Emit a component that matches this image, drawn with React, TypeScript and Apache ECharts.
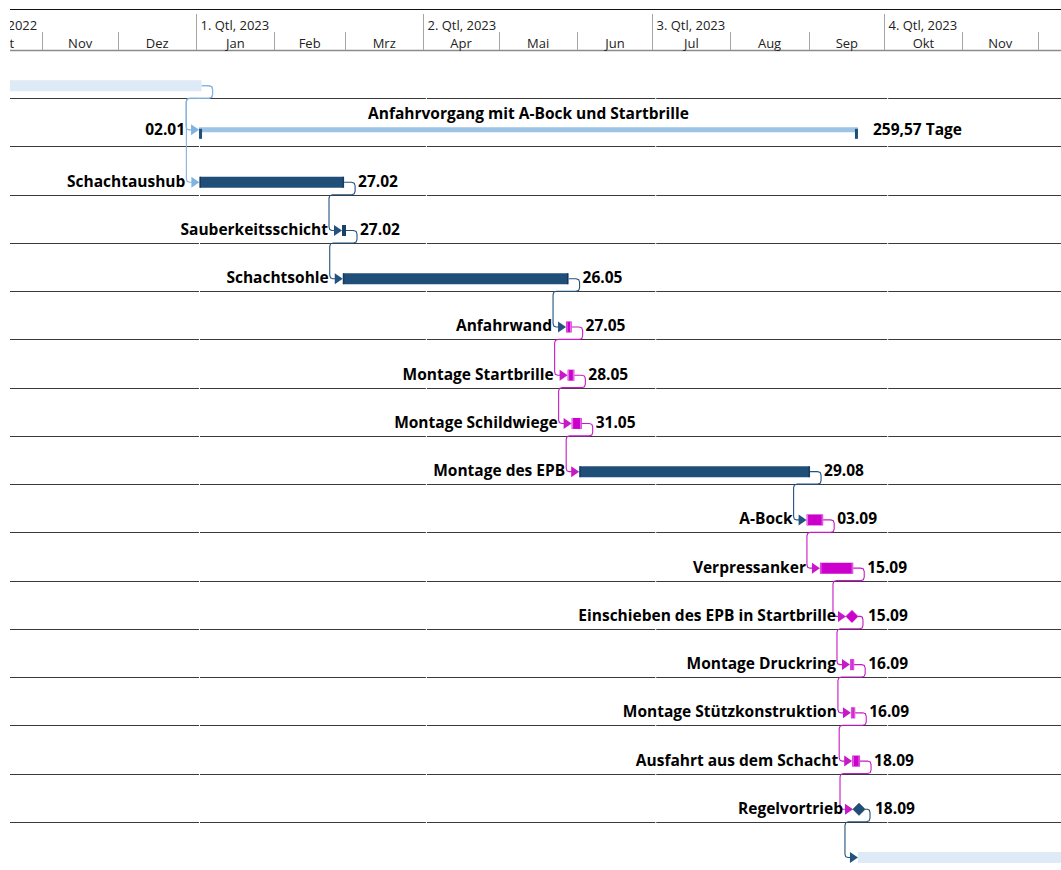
import React, { useEffect, useRef } from "react";
import * as echarts from "echarts";

// ---------- timescale ----------
const AXIS_MIN = "2022-10-19T05:15";
const AXIS_MAX = "2023-12-10T03:00";

const monthStarts = [
  "2022-10-01", "2022-11-01", "2022-12-01", "2023-01-01", "2023-02-01", "2023-03-01", "2023-04-01",
  "2023-05-01", "2023-06-01", "2023-07-01", "2023-08-01", "2023-09-01", "2023-10-01", "2023-11-01",
  "2023-12-01", "2024-01-01",
];
const monthLabels = ["Okt", "Nov", "Dez", "Jan", "Feb", "Mrz", "Apr", "Mai", "Jun", "Jul", "Aug", "Sep", "Okt", "Nov", "Dez"];
const quarterStarts = ["2022-10-01", "2023-01-01", "2023-04-01", "2023-07-01", "2023-10-01"];
const quarterLabels = ["4. Qtl, 2022", "1. Qtl, 2023", "2. Qtl, 2023", "3. Qtl, 2023", "4. Qtl, 2023"];

// ---------- tasks (one per row) ----------
const taskNames = [
  "", "Anfahrvorgang mit A-Bock und Startbrille", "Schachtaushub", "Sauberkeitsschicht", "Schachtsohle",
  "Anfahrwand", "Montage Startbrille", "Montage Schildwiege", "Montage des EPB", "A-Bock", "Verpressanker",
  "Einschieben des EPB in Startbrille", "Montage Druckring", "Montage Stützkonstruktion",
  "Ausfahrt aus dem Schacht", "Regelvortrieb", "",
];
const taskKinds = [
  "external", "summary", "task", "task", "task", "task", "task", "task", "task", "task", "task",
  "milestone", "task", "task", "task", "milestone", "external",
];
const taskColors = [
  "pale", "summary", "blue", "blue", "blue", "magenta", "magenta", "magenta", "blue", "magenta", "magenta",
  "magenta", "magenta", "magenta", "magenta", "blue", "pale",
];
const taskStarts = [
  "2022-09-01T00:00", "2023-01-02T05:00", "2023-01-02T08:00", "2023-02-27T22:00", "2023-02-28T05:00",
  "2023-05-27T19:00", "2023-05-28T10:00", "2023-05-30T00:00", "2023-06-02T00:00", "2023-08-31T05:00",
  "2023-09-05T12:00", "2023-09-18T05:00", "2023-09-17T10:00", "2023-09-17T19:00", "2023-09-18T07:00",
  "2023-09-21T00:00", "2023-09-20T14:00",
];
const taskEnds = [
  "2023-01-03T05:00", "2023-09-20T14:00", "2023-02-28T18:00", "2023-03-01T12:00", "2023-05-28T19:00",
  "2023-05-30T00:00", "2023-05-31T02:00", "2023-06-03T00:00", "2023-09-01T14:00", "2023-09-06T19:00",
  "2023-09-18T17:00", "2023-09-18T05:00", "2023-09-19T02:00", "2023-09-19T12:00", "2023-09-21T10:00",
  "2023-09-21T00:00", "2024-03-01T00:00",
];
const startLabels = ["", "02.01", "", "", "", "", "", "", "", "", "", "", "", "", "", "", ""];
const finishLabels = [
  "", "259,57 Tage", "27.02", "27.02", "26.05", "27.05", "28.05", "31.05", "29.08", "03.09", "15.09",
  "15.09", "16.09", "16.09", "18.09", "18.09", "",
];

// ---------- links (predecessor row -> successor row) ----------
const linkFrom = [0, 0, 2, 3, 4, 5, 6, 7, 8, 9, 10, 11, 12, 13, 14, 15];
const linkTo = [1, 2, 3, 4, 5, 6, 7, 8, 9, 10, 11, 12, 13, 14, 15, 16];

const ROWS = taskNames.length;

const T = (s: string) => new Date(s).getTime();

const C = {
  blue: "#1f4e79",
  blueEdge: "#143656",
  magenta: "#cc00cc",
  magentaEdge: "#e680e6",
  summary: "#9dc3e6",
  pale: "#deeaf6",
  linkPale: "#82b2de",
  linkBlue: "#24527e",
  linkMagenta: "#c819c8",
};

const FONT_B = 'bold 15.5px "Open Sans", "Noto Sans", sans-serif';
const FONT_H = '13px "Open Sans", "Noto Sans", sans-serif';

function yOff(i: number) {
  const k = taskKinds[i];
  if (k === "summary") return 0.655;
  return 0.742;
}

function rounded(pts: number[][], r: number) {
  const out: number[][] = [pts[0]];
  for (let k = 1; k < pts.length - 1; k++) {
    const [px, py] = pts[k - 1];
    const [cx, cy] = pts[k];
    const [nx, ny] = pts[k + 1];
    const d1 = Math.hypot(cx - px, cy - py);
    const d2 = Math.hypot(nx - cx, ny - cy);
    if (d1 < 0.01 || d2 < 0.01) {
      out.push([cx, cy]);
      continue;
    }
    const r1 = Math.min(r, d1 / 2);
    const r2 = Math.min(r, d2 / 2);
    const a = [cx - ((cx - px) / d1) * r1, cy - ((cy - py) / d1) * r1];
    const b = [cx + ((nx - cx) / d2) * r2, cy + ((ny - cy) / d2) * r2];
    const m = [0.25 * a[0] + 0.5 * cx + 0.25 * b[0], 0.25 * a[1] + 0.5 * cy + 0.25 * b[1]];
    out.push(a, m, b);
  }
  out.push(pts[pts.length - 1]);
  return out;
}

function txt(text: string, x: number, y: number, align: string, font = FONT_B, fill = "#000") {
  return { type: "text", style: { text, x, y, align, verticalAlign: "middle", font, fill } };
}

function renderTask(params: any, api: any) {
  const i = params.dataIndex;
  const row = api.value(2);
  const p0 = api.coord([api.value(0), row]);
  const p1 = api.coord([api.value(1), row]);
  const h = api.size([0, 1])[1];
  const top = p0[1];
  const xs = p0[0];
  const xe = p1[0];
  const kind = taskKinds[i];
  const col = taskColors[i];
  const yc = top + yOff(i) * h;
  const ch: any[] = [];
  if (kind === "external") {
    ch.push({ type: "rect", shape: { x: xs, y: yc - 5.5, width: xe - xs, height: 11 }, style: { fill: C.pale } });
  } else if (kind === "summary") {
    ch.push({ type: "rect", shape: { x: xs, y: yc - 2.5, width: xe - xs, height: 5 }, style: { fill: C.summary } });
    ch.push({ type: "rect", shape: { x: xs, y: yc - 1, width: 3, height: 10 }, style: { fill: C.blue } });
    ch.push({ type: "rect", shape: { x: xe - 3, y: yc - 1, width: 3, height: 10 }, style: { fill: C.blue } });
    ch.push(txt(taskNames[i], (xs + xe) / 2, top + 15, "center"));
    ch.push(txt(startLabels[i], xs - 14, yc - 0.5, "right"));
    ch.push(txt(finishLabels[i], xe + 15, yc - 0.5, "left"));
  } else if (kind === "task") {
    const fill = col === "blue" ? C.blue : C.magenta;
    const edge = col === "blue" ? C.blueEdge : C.magentaEdge;
    const w = Math.max(xe - xs, 2);
    ch.push({ type: "rect", shape: { x: xs, y: yc - 5.5, width: w, height: 11 }, style: { fill } });
    ch.push({
      type: "line",
      shape: { x1: xs + 1, y1: yc - 5.5, x2: xs + 1, y2: yc + 5.5 },
      style: { stroke: edge, lineWidth: 1 },
    });
    ch.push({
      type: "line",
      shape: { x1: xs + w - 1, y1: yc - 5.5, x2: xs + w - 1, y2: yc + 5.5 },
      style: { stroke: edge, lineWidth: 1 },
    });
    ch.push(txt(taskNames[i], xs - 14, yc - 1.5, "right"));
    ch.push(txt(finishLabels[i], xe + 14, yc - 1.5, "left"));
  } else {
    const fill = col === "blue" ? C.blue : C.magenta;
    const s = 6;
    ch.push({
      type: "polygon",
      shape: { points: [[xs, yc - s], [xs + s, yc], [xs, yc + s], [xs - s, yc]] },
      style: { fill, stroke: col === "blue" ? C.blueEdge : C.magenta, lineWidth: 0.8 },
    });
    ch.push(txt(taskNames[i], xs - s - 10, yc - 1.5, "right"));
    ch.push(txt(finishLabels[i], xs + 16, yc - 1.5, "left"));
  }
  return { type: "group", children: ch };
}

function renderLink(params: any, api: any) {
  const a = linkFrom[params.dataIndex];
  const b = linkTo[params.dataIndex];
  const pa = api.coord([api.value(0), api.value(1)]);
  const pb = api.coord([api.value(2), api.value(3)]);
  const h = api.size([0, 1])[1];
  const ya = pa[1] + yOff(a) * h;
  const isMsA = taskKinds[a] === "milestone";
  const xe = pa[0] + (isMsA ? 6 : 0);
  const xr = isMsA ? pa[0] + 11 : xe + 11;
  const yb = pa[1] + h;
  const xs = pb[0] - (taskKinds[b] === "milestone" ? 6 : 0);
  const yc = pb[1] + yOff(b) * h;
  const xl = xs - 13;
  const colName = taskColors[a];
  const color = colName === "pale" ? C.linkPale : colName === "blue" ? C.linkBlue : C.linkMagenta;
  const pts = rounded(
    [
      [xe, ya],
      [xr, ya],
      [xr, yb],
      [xl, yb],
      [xl, yc],
      [xs - 7, yc],
    ],
    3.5
  );
  return {
    type: "group",
    children: [
      { type: "polyline", shape: { points: pts }, style: { stroke: color, lineWidth: 1.1, fill: null } },
      {
        type: "polygon",
        shape: { points: [[xs - 8, yc - 5.5], [xs, yc], [xs - 8, yc + 5.5]] },
        style: { fill: color },
      },
    ],
  };
}

function renderRowLine(params: any, api: any) {
  const cs = params.coordSys;
  const k = api.value(1);
  const y = Math.round(api.coord([api.value(0), k])[1]) + 0.5;
  const gaps = quarterStarts.map((q) => api.coord([T(q), k])[0] + 3);
  const xs = [cs.x, ...gaps.filter((g: number) => g > cs.x && g < cs.x + cs.width), cs.x + cs.width];
  const ch: any[] = [];
  for (let j = 0; j < xs.length - 1; j++) {
    ch.push({
      type: "line",
      shape: { x1: xs[j] + (j === 0 ? 0 : 1), y1: y, x2: xs[j + 1], y2: y },
      style: { stroke: "#3a3a3a", lineWidth: 1 },
    });
  }
  return { type: "group", children: ch };
}

function renderMonth(params: any, api: any) {
  const cs = params.coordSys;
  const i = params.dataIndex;
  const x0 = Math.round(api.coord([api.value(0), 0])[0]) + 0.5;
  const x1 = api.coord([api.value(1), 0])[0];
  const bottom = cs.y + 42;
  const ch: any[] = [
    { type: "line", shape: { x1: x0, y1: cs.y + 24, x2: x0, y2: bottom }, style: { stroke: "#a6a6a6", lineWidth: 1 } },
  ];
  const cx = (x0 + x1) / 2;
  if (cx < cs.x + cs.width) {
    ch.push(txt(monthLabels[i], cx, cs.y + 35, "center", FONT_H, "#222"));
  }
  return { type: "group", children: ch };
}

function renderQuarter(params: any, api: any) {
  const cs = params.coordSys;
  const i = params.dataIndex;
  const x0 = Math.round(api.coord([api.value(0), 0])[0]) + 0.5;
  const ch: any[] = [
    { type: "line", shape: { x1: x0, y1: cs.y + 6, x2: x0, y2: cs.y + 42 }, style: { stroke: "#a6a6a6", lineWidth: 1 } },
    txt(quarterLabels[i], x0 + 4, cs.y + 17, "left", FONT_H, "#222"),
  ];
  if (i === 0) {
    ch.push({
      type: "line",
      shape: { x1: cs.x, y1: cs.y + 1.5, x2: cs.x + cs.width, y2: cs.y + 1.5 },
      style: { stroke: "#111", lineWidth: 1 },
    });
    ch.push({
      type: "line",
      shape: { x1: cs.x, y1: cs.y + 42.5, x2: cs.x + cs.width, y2: cs.y + 42.5 },
      style: { stroke: "#8c8c8c", lineWidth: 1.6 },
    });
  }
  return { type: "group", children: ch };
}

function buildOption(): any {
  const tMin = T(AXIS_MIN);
  const tMax = T(AXIS_MAX);
  const taskData = taskStarts.map((s, i) => [T(s), T(taskEnds[i]), i]);
  const linkData = linkFrom.map((a, j) => [T(taskEnds[a]), a, T(taskStarts[linkTo[j]]), linkTo[j]]);
  const rowLineData: number[][] = [];
  for (let k = 1; k < ROWS; k++) rowLineData.push([tMin, k]);
  const monthData = monthLabels.map((_, i) => [T(monthStarts[i]), T(monthStarts[i + 1]), 0]);
  const quarterData = quarterStarts.map((q) => [T(q), 0]);

  return {
    animation: false,
    backgroundColor: "#ffffff",
    grid: [
      { left: 10, top: 50, width: 1051, height: ROWS * 48.6, containLabel: false },
      { left: 10, top: 8, width: 1051, height: 44, containLabel: false },
    ],
    xAxis: [
      { type: "time", gridIndex: 0, min: tMin, max: tMax, show: false },
      { type: "time", gridIndex: 1, min: tMin, max: tMax, show: false },
    ],
    yAxis: [
      { type: "value", gridIndex: 0, min: 0, max: ROWS, inverse: true, show: false },
      { type: "value", gridIndex: 1, min: 0, max: 1, show: false },
    ],
    series: [
      {
        type: "custom",
        xAxisIndex: 1,
        yAxisIndex: 1,
        clip: true,
        renderItem: renderQuarter,
        encode: { x: 0, y: 1 },
        data: quarterData,
        silent: true,
      },
      {
        type: "custom",
        xAxisIndex: 1,
        yAxisIndex: 1,
        clip: true,
        renderItem: renderMonth,
        encode: { x: [0, 1], y: 2 },
        data: monthData,
        silent: true,
      },
      {
        type: "custom",
        xAxisIndex: 0,
        yAxisIndex: 0,
        clip: true,
        renderItem: renderRowLine,
        encode: { x: 0, y: 1 },
        data: rowLineData,
        silent: true,
      },
      {
        type: "custom",
        xAxisIndex: 0,
        yAxisIndex: 0,
        clip: true,
        renderItem: renderLink,
        encode: { x: [0, 2], y: [1, 3] },
        data: linkData,
        silent: true,
      },
      {
        type: "custom",
        xAxisIndex: 0,
        yAxisIndex: 0,
        clip: true,
        renderItem: renderTask,
        encode: { x: [0, 1], y: 2 },
        data: taskData,
        silent: true,
      },
    ],
  };
}

export default function App() {
  const ref = useRef<HTMLDivElement>(null);
  useEffect(() => {
    if (!ref.current) return;
    const chart = echarts.init(ref.current, null, { renderer: "svg" });
    chart.setOption(buildOption());
    return () => chart.dispose();
  }, []);
  return (
    <div
      ref={ref}
      style={{ position: "absolute", left: 0, top: 0, width: 1061, height: 870, background: "#fff" }}
    />
  );
}
